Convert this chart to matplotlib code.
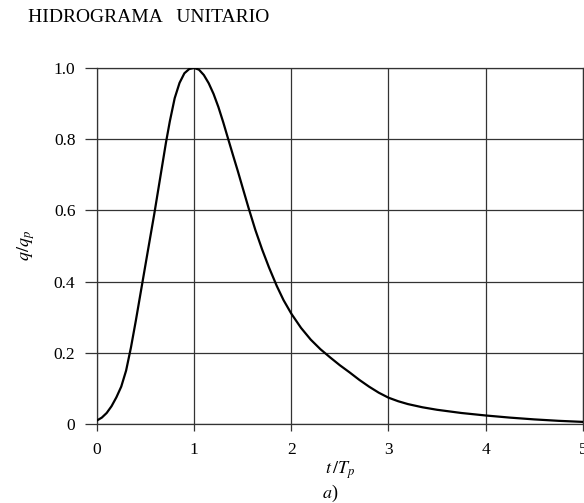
import matplotlib
matplotlib.use("Agg")
import matplotlib.pyplot as plt

plt.rcParams['font.family'] = ['Liberation Serif', 'DejaVu Serif']
plt.rcParams['mathtext.fontset'] = 'stix'

# Dimensionless unit hydrograph
t_ratio = [0.0, 0.05, 0.1, 0.15, 0.2, 0.25, 0.3, 0.35, 0.4, 0.46, 0.52, 0.59, 0.65,
           0.71, 0.75, 0.8, 0.85, 0.9, 0.95, 1.0, 1.05, 1.1, 1.15, 1.2, 1.25, 1.3,
           1.34, 1.4, 1.45, 1.5, 1.56, 1.63, 1.7, 1.77, 1.85, 1.92, 2.0, 2.1, 2.2,
           2.3, 2.4, 2.5, 2.6, 2.7, 2.8, 2.9, 3.0, 3.1, 3.2, 3.35, 3.5, 3.75, 4.0,
           4.25, 4.5, 4.75, 5.0]
q_ratio = [0.01, 0.018, 0.031, 0.05, 0.075, 0.105, 0.15, 0.215, 0.29, 0.385, 0.48, 0.59, 0.69,
           0.79, 0.85, 0.915, 0.958, 0.985, 0.997, 1.0, 0.995, 0.98, 0.957, 0.927, 0.89, 0.847,
           0.81, 0.755, 0.71, 0.663, 0.607, 0.545, 0.49, 0.44, 0.388, 0.348, 0.31, 0.27, 0.237,
           0.21, 0.187, 0.165, 0.145, 0.124, 0.105, 0.088, 0.074, 0.064, 0.056, 0.047, 0.04, 0.031, 0.024,
           0.018, 0.013, 0.009, 0.006]

x_ticks = [0, 1, 2, 3, 4, 5]
x_ticklabels = ['0', '1', '2', '3', '4', '5']
y_ticks = [0, 0.2, 0.4, 0.6, 0.8, 1.0]
y_ticklabels = ['0', '0.2', '0.4', '0.6', '0.8', '1.0']

fig = plt.figure(figsize=(5.84, 5.03), dpi=100)
ax = fig.add_axes([0.166, 0.157, 0.832, 0.708])

ax.plot(t_ratio, q_ratio, color='black', lw=1.6, solid_capstyle='round',
        solid_joinstyle='round', zorder=3)

ax.set_xlim(0, 5)
ax.set_ylim(0, 1.0)
ax.set_xticks(x_ticks)
ax.set_xticklabels(x_ticklabels)
ax.set_yticks(y_ticks)
ax.set_yticklabels(y_ticklabels)
ax.grid(True, color='#333333', lw=0.9)
for s in ax.spines.values():
    s.set_color('#333333')
    s.set_linewidth(0.9)
ax.tick_params(axis='y', direction='out', length=8.5, width=0.9, pad=7, labelsize=12.5, color='#333333')
ax.tick_params(axis='x', direction='out', length=5, width=0.9, pad=8, labelsize=12.5, color='#333333')

ax.set_xlabel(r'$t\,/T_p$', fontsize=13, labelpad=1)
ax.set_ylabel(r'$q/q_p$', fontsize=13, labelpad=12)

fig.text(0.048, 0.966, 'HIDROGRAMA   UNITARIO', fontsize=14, ha='left', va='center')
fig.text(0.565, 0.02, r'$a$)', fontsize=13, ha='center', va='center')

fig.savefig('out.png', dpi=100)
